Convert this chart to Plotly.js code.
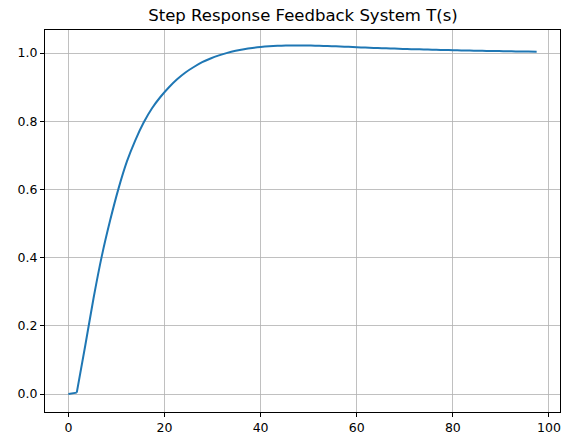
<!DOCTYPE html>
<html>
<head>
<meta charset="utf-8">
<script src="https://cdn.plot.ly/plotly-3.0.1.min.js"></script>
<style>html,body{margin:0;padding:0;background:#fff;}#chart{width:562px;height:437px;}</style>
</head>
<body>
<div id="chart"></div>
<script>
const chartTitle = "Step Response Feedback System T(s)";
const timeValues = [0, 1.74, 3.48, 5.22, 6.96, 8.70, 10.44, 12.18, 13.92, 15.66,
  17.40, 19.14, 20.88, 22.62, 24.36, 26.10, 27.84, 29.58, 31.32, 33.06,
  34.80, 36.54, 38.28, 40.02, 41.76, 43.50, 45.24, 46.98, 48.72, 50.46,
  52.20, 53.94, 55.68, 57.42, 59.16, 60.90, 62.64, 64.38, 66.12, 67.86,
  69.60, 71.34, 73.08, 74.82, 76.56, 78.30, 80.04, 81.78, 83.52, 85.26,
  87.00, 88.74, 90.48, 92.22, 93.96, 95.70, 97.44];
const responseValues = [0, 0.004, 0.14, 0.28, 0.405, 0.51, 0.603, 0.682, 0.744, 0.796,
  0.838, 0.871, 0.899, 0.923, 0.943, 0.959, 0.973, 0.984, 0.993, 1.0005,
  1.0065, 1.0113, 1.015, 1.0178, 1.0198, 1.0212, 1.022, 1.0223, 1.0223, 1.0219,
  1.0213, 1.0205, 1.0196, 1.0186, 1.0175, 1.0165, 1.0155, 1.0146, 1.0137, 1.0129,
  1.0121, 1.0114, 1.0107, 1.01, 1.0094, 1.0088, 1.0082, 1.0077, 1.0072, 1.0067,
  1.0062, 1.0058, 1.0054, 1.005, 1.0046, 1.0043, 1.004];
const xTicks = [0, 20, 40, 60, 80, 100];
const yTicks = [0.0, 0.2, 0.4, 0.6, 0.8, 1.0];

const font = "DejaVu Sans, sans-serif";
const lineColor = "#1f77b4";
const axisCommon = {
  showline: true, linecolor: "#000", linewidth: 1, mirror: true,
  showgrid: true, gridcolor: "#b0b0b0", gridwidth: 0.8,
  ticks: "outside", ticklen: 4, tickwidth: 1, tickcolor: "#000",
  zeroline: false, tickfont: {family: font, size: 12.5, color: "#000"}
};
// sampled step response: the first sample interval is drawn straight (sharp kink),
// the remainder as a smooth curve through the same samples
const traceStart = {
  x: timeValues.slice(0, 2), y: responseValues.slice(0, 2), type: "scatter", mode: "lines",
  line: {color: lineColor, width: 2}, hoverinfo: "skip"
};
const traceRest = {
  x: timeValues.slice(1), y: responseValues.slice(1), type: "scatter", mode: "lines",
  line: {color: lineColor, width: 2, shape: "spline", smoothing: 0.6}, hoverinfo: "skip"
};
const layout = {
  width: 562, height: 437,
  margin: {l: 45, r: 2, t: 30, b: 25},
  paper_bgcolor: "#fff", plot_bgcolor: "#fff",
  showlegend: false,
  title: {text: chartTitle, font: {family: font, size: 16.5, color: "#000"},
    x: 303/562, xanchor: "center", yref: "container", y: 1 - 15/437, yanchor: "middle"},
  xaxis: Object.assign({}, axisCommon, {range: [-4.87, 102.3], tickvals: xTicks,
    ticktext: xTicks.map(String)}),
  yaxis: Object.assign({}, axisCommon, {range: [-0.0528, 1.0675], tickvals: yTicks,
    ticktext: yTicks.map(v => v.toFixed(1))})
};
Plotly.newPlot("chart", [traceStart, traceRest], layout, {displayModeBar: false, staticPlot: true});
</script>
</body>
</html>
